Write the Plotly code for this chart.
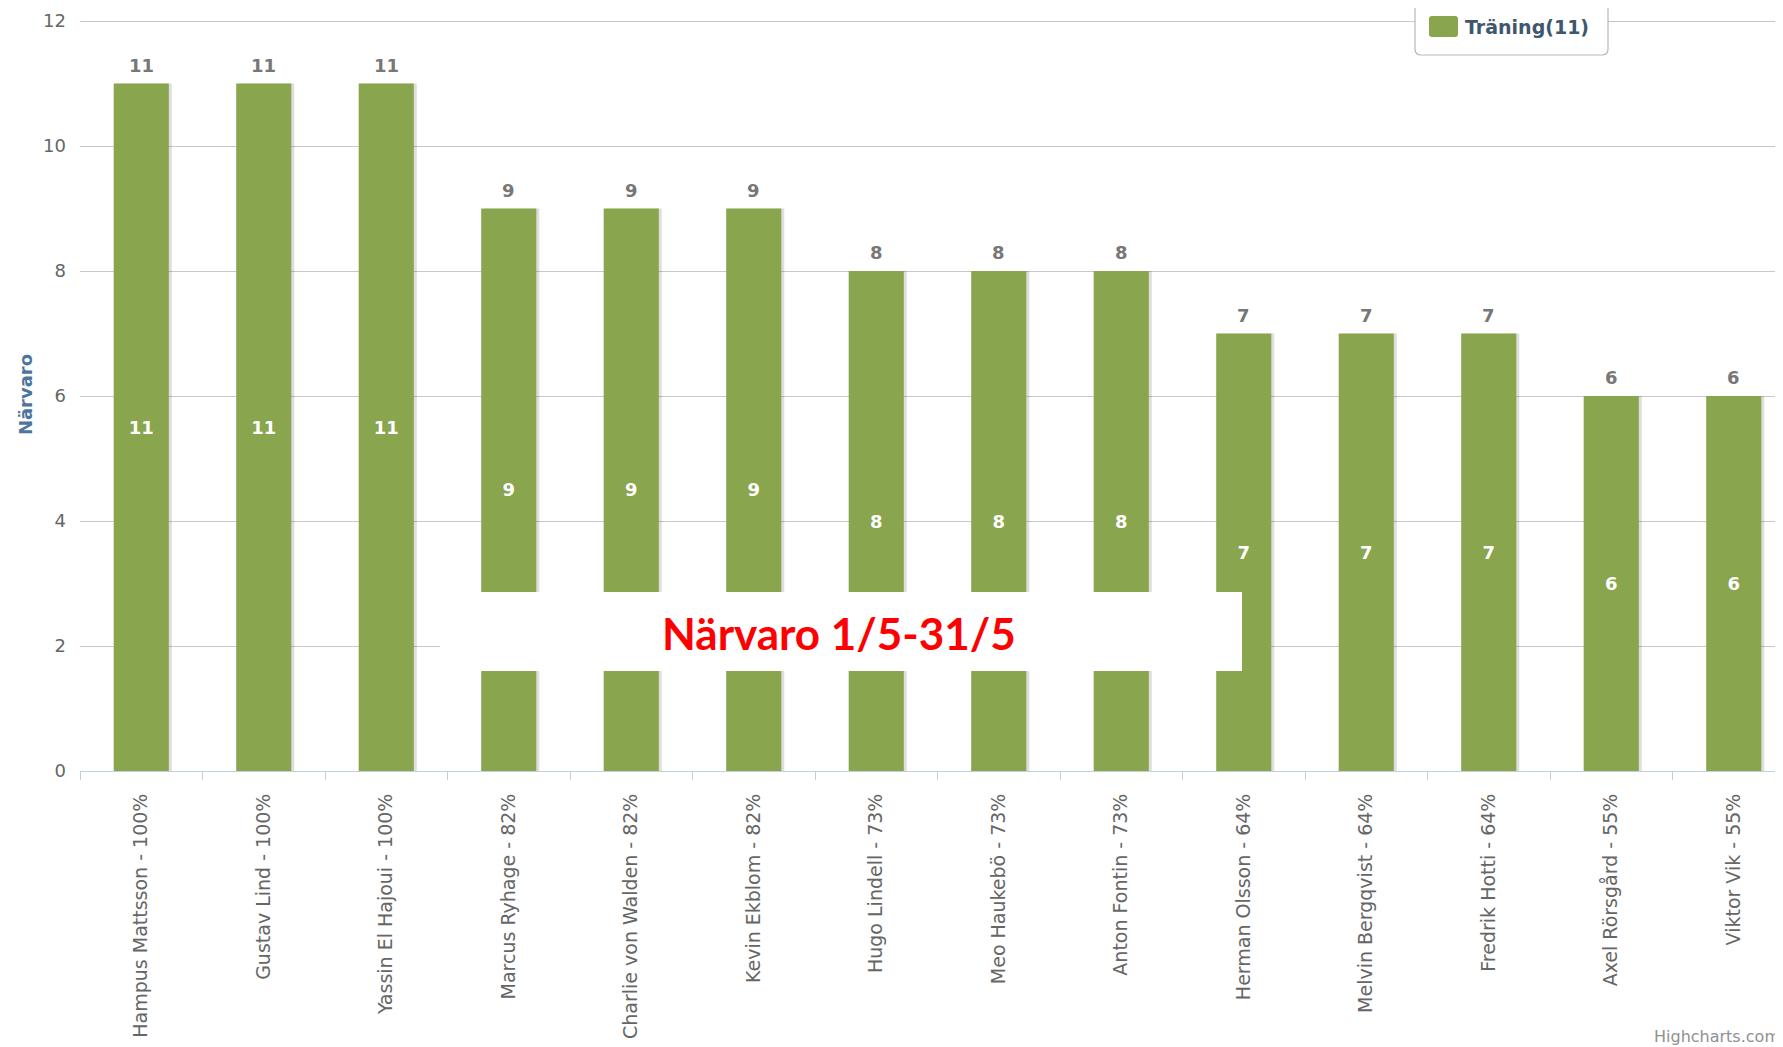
import plotly.graph_objects as go

# ---- data ----
players = [
    "Hampus Mattsson - 100%", "Gustav Lind - 100%", "Yassin El Hajoui - 100%",
    "Marcus Ryhage - 82%", "Charlie von Walden - 82%", "Kevin Ekblom - 82%",
    "Hugo Lindell - 73%", "Meo Haukebö - 73%", "Anton Fontin - 73%",
    "Herman Olsson - 64%", "Melvin Bergqvist - 64%", "Fredrik Hotti - 64%",
    "Axel Rörsgård - 55%", "Viktor Vik - 55%",
]
traning = [11, 11, 11, 9, 9, 9, 8, 8, 8, 7, 7, 7, 6, 6]
series_name = "Träning(11)"
y_title = "Närvaro"
overlay_title = "Närvaro 1/5-31/5"
y_ticks = [0, 2, 4, 6, 8, 10, 12]

# ---- layout constants (page pixels; the page body has an 8px margin) ----
OFF = 8
W, H = 1783 - OFF, 1047 - OFF
PLOT_LEFT, PLOT_TOP, PLOT_BOTTOM = 80, 18, 771
L = PLOT_LEFT - OFF
T = PLOT_TOP - OFF
B = H - (PLOT_BOTTOM - OFF)
R = 0
PW, PH = W - L - R, H - T - B
PX_PER_UNIT = 62.5
Y_MAX = PH / PX_PER_UNIT
CAT_PX = 122.5
XMAX = -0.5 + PW / CAT_PX

def px_x(x):
    return (x - PLOT_LEFT) / PW

def px_y(y):
    return (PLOT_BOTTOM - y) / PH

GREEN = "#89A54E"
BAR_W = 0.45
SHADOW_SHIFT = 3 / CAT_PX

fig = go.Figure()

# shadow
fig.add_trace(go.Bar(
    x=players, y=traning, width=BAR_W, offset=-BAR_W / 2 + SHADOW_SHIFT,
    marker=dict(color="rgba(0,0,0,0.13)", line=dict(width=0)),
    showlegend=False, hoverinfo="skip",
))
# main bars
fig.add_trace(go.Bar(
    x=players, y=traning, name=series_name, width=BAR_W, offset=-BAR_W / 2,
    marker=dict(color=GREEN, line=dict(width=0)),
    text=traning, texttemplate="%{text}", textposition="inside",
    insidetextanchor="middle", textangle=0,
    textfont=dict(family="DejaVu Sans", size=18, color="white", weight="bold"),
    showlegend=True,
))

annotations = []
# value labels above bars
for p, v in zip(players, traning):
    annotations.append(dict(
        x=p, y=v, xref="x", yref="y", text=str(v), showarrow=False,
        xanchor="center", yanchor="bottom", yshift=6,
        font=dict(family="DejaVu Sans", size=18, color="#777777", weight="bold"),
    ))

def rounded(x0, y0, w, h, r):
    return (f"M {r},0 L {w-r},0 Q {w},0 {w},{-r} L {w},{-h+r} "
            f"Q {w},{-h} {w-r},{-h} L {r},{-h} Q 0,{-h} 0,{-h+r} "
            f"L 0,{-r} Q 0,0 {r},0 Z")

shapes = []
# legend box (rounded)
lx0, ly0, lw, lh = 1415, 3, 193, 52
shapes.append(dict(
    type="path", xref="paper", yref="paper", layer="above",
    xsizemode="pixel", ysizemode="pixel",
    xanchor=px_x(lx0), yanchor=px_y(ly0),
    path=rounded(0, 0, lw, lh, 6),
    fillcolor="white", line=dict(color="#B8B8B8", width=1.2),
))
# larger legend swatch (under the legend icon)
shapes.append(dict(
    type="path", xref="paper", yref="paper", layer="above",
    xsizemode="pixel", ysizemode="pixel",
    xanchor=px_x(1429), yanchor=px_y(16),
    path=rounded(0, 0, 29, 21, 3),
    fillcolor=GREEN, line=dict(width=0),
))
# export buttons peeking at top right
for bx0, bw in [(1702, 41), (1750, 45)]:
    shapes.append(dict(
        type="path", xref="paper", yref="paper", layer="above",
        xsizemode="pixel", ysizemode="pixel",
        xanchor=px_x(bx0), yanchor=px_y(3),
        path=(f"M 0,20 L 0,4 Q 0,0 4,0 L {bw-4},0 Q {bw},0 {bw},4 L {bw},20 Z"),
        fillcolor="#F4F4F4", line=dict(color="#B0B0B0", width=1),
    ))
# white box for overlay title
shapes.append(dict(
    type="rect", xref="paper", yref="paper", layer="above",
    x0=px_x(440), x1=px_x(1242), y0=px_y(671), y1=px_y(592),
    fillcolor="white", line=dict(width=0),
))

annotations += [
    dict(text=overlay_title, xref="paper", yref="paper",
         x=px_x(839), y=px_y(633), xanchor="center", yanchor="middle",
         showarrow=False,
         font=dict(family="Lato", size=44, color="#FF0000", weight="bold")),
    dict(text="Highcharts.com", xref="paper", yref="paper",
         x=px_x(1652), y=px_y(1036), xanchor="left", yanchor="middle",
         showarrow=False,
         font=dict(family="DejaVu Sans", size=16, color="#909090")),
]

fig.update_layout(
    width=W, height=H,
    margin=dict(l=L, r=R, t=T, b=B, pad=0),
    template="none",
    plot_bgcolor="white", paper_bgcolor="white",
    barmode="overlay",
    showlegend=True,
    legend=dict(
        x=px_x(1425), y=px_y(27), xanchor="left", yanchor="middle",
        bgcolor="rgba(0,0,0,0)", borderwidth=0,
        font=dict(family="DejaVu Sans", size=19, color="#3E576F", weight="bold"),
    ),
    xaxis=dict(
        type="category", range=[-0.5, XMAX], automargin=False,
        showline=True, linecolor="#C0D0E0", linewidth=1,
        ticks="outside", tickson="boundaries", ticklen=8, tickcolor="#C0D0E0",
        tickangle=-90, ticklabelstandoff=14,
        tickfont=dict(family="DejaVu Sans", size=19, color="#666666"),
        showgrid=False, zeroline=False,
    ),
    yaxis=dict(
        range=[0, Y_MAX], tickvals=y_ticks, automargin=False,
        showgrid=True, gridcolor="#C8C8C8", gridwidth=1,
        zeroline=False, showline=False, ticks="",
        ticklabelstandoff=13,
        tickfont=dict(family="DejaVu Sans", size=18, color="#666666"),
        title=dict(text=y_title, standoff=5,
                   font=dict(family="DejaVu Sans", size=18, color="#4D759E",
                             weight="bold")),
    ),
    shapes=shapes,
    annotations=annotations,
)

fig.write_html("out.html")
